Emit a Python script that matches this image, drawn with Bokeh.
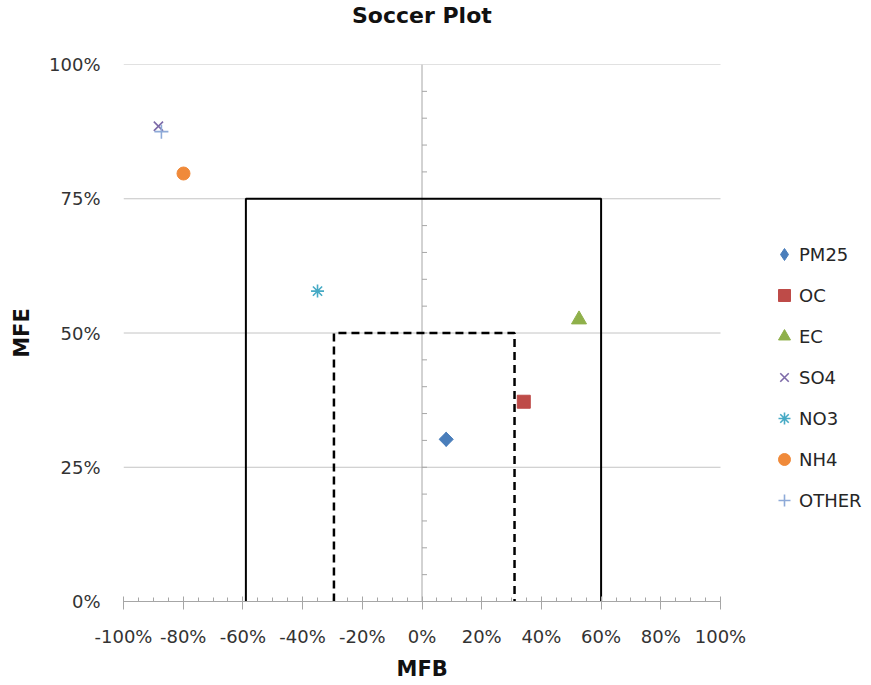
from bokeh.plotting import figure
from bokeh.models import Legend, LegendItem, PrintfTickFormatter, FixedTicker, Range1d, Title
from bokeh.embed import file_html
from bokeh.resources import INLINE

# ---- data ----
species = ["PM25", "OC", "EC", "SO4", "NO3", "NH4", "OTHER"]
mfb = [8.1, 34.1, 52.6, -88.3, -35.0, -79.9, -87.3]
mfe = [30.2, 37.2, 52.5, 88.5, 57.8, 79.7, 87.5]

# goal (solid) and criteria (dashed) boxes
goal_x = [-59, -59, 60, 60]
goal_y = [0, 75, 75, 0]
crit_x = [-29.5, -29.5, 31, 31]
crit_y = [0, 50, 50, 0]

x_ticks = [-100, -80, -60, -40, -20, 0, 20, 40, 60, 80, 100]
x_minor = [v for v in range(-100, 101, 5) if v not in x_ticks]
y_ticks = [0, 25, 50, 75, 100]
center_minor = list(range(5, 100, 5))

markers = ["diamond", "square", "triangle", "x", "asterisk", "circle", "cross"]
sizes = [14, 13, 15, 13, 13, 13, 14]
colors = ["#4a7ebb", "#be4b48", "#8fb04a", "#7d6aa8", "#46aac5", "#f08a3a", "#8eaad8"]

FONT = "DejaVu Sans"

# layout: plot area from x=123 (-100%) to x=720 (100%); frame extends to the
# right edge so the legend can sit beside the axes
W, H = 871, 685
LEFT, AX_RIGHT = 123, 720
x_lo, x_hi = x_ticks[0], x_ticks[-1]
x_end = x_lo + (x_hi - x_lo) * (W - LEFT) / (AX_RIGHT - LEFT)
x_center_px = (LEFT + AX_RIGHT) / 2 - LEFT

p = figure(width=W, height=H, output_backend="svg", toolbar_location=None,
           x_range=Range1d(x_lo, x_end), y_range=Range1d(y_ticks[0], y_ticks[-1]),
           min_border_left=LEFT, min_border_right=0, min_border_top=64,
           min_border_bottom=84, title=None)
p.outline_line_color = None
p.background_fill_color = "white"

# titles (spacer nearest the plot, then the main title)
p.add_layout(Title(text=" ", text_font_size="22px", standoff=8), "above")
title_w = 140
p.add_layout(Title(text="Soccer Plot", align="left", offset=x_center_px - title_w / 2,
                   vertical_align="top", standoff=0, text_font=FONT,
                   text_font_size="22px", text_font_style="bold",
                   text_color="#111111"), "above")

# grid (drawn only across the axis span)
p.xgrid.visible = False
p.ygrid.visible = False
gy = y_ticks[1:]
p.segment(x0=[x_lo] * len(gy), y0=gy, x1=[x_hi] * len(gy), y1=gy,
          line_color="#c4c4c4", line_width=1)

# x axis
xa = p.xaxis[0]
xa.bounds = (x_lo, x_hi)
xa.ticker = FixedTicker(ticks=x_ticks, minor_ticks=x_minor)
xa.formatter = PrintfTickFormatter(format="%d%%")
xa.axis_line_color = "#a6a6a6"
xa.major_tick_line_color = "#a6a6a6"
xa.minor_tick_line_color = "#a6a6a6"
xa.major_tick_in = 5
xa.major_tick_out = 8
xa.minor_tick_in = 4
xa.minor_tick_out = 0
xa.major_label_text_font = FONT
xa.major_label_text_font_size = "18px"
xa.major_label_text_color = "#333333"
xa.major_label_standoff = 16

label_w = 51
p.add_layout(Title(text="MFB", align="left", offset=x_center_px - label_w / 2,
                   vertical_align="bottom", standoff=10, text_font=FONT,
                   text_font_size="21px", text_font_style="bold",
                   text_color="#111111"), "below")

# y axis
ya = p.yaxis[0]
ya.ticker = FixedTicker(ticks=y_ticks)
ya.formatter = PrintfTickFormatter(format="%d%%")
ya.axis_line_color = None
ya.major_tick_line_color = None
ya.minor_tick_line_color = None
ya.major_tick_out = 0
ya.major_tick_in = 0
ya.major_label_standoff = 23
ya.major_label_text_font = FONT
ya.major_label_text_font_size = "18px"
ya.major_label_text_color = "#333333"
ya.axis_label = "MFE"
ya.axis_label_text_font = FONT
ya.axis_label_text_font_size = "21px"
ya.axis_label_text_font_style = "bold"
ya.axis_label_text_color = "#111111"
ya.axis_label_standoff = 12

# central vertical axis at MFB = 0 with minor ticks
p.segment(x0=[0], y0=[y_ticks[0]], x1=[0], y1=[y_ticks[-1]], line_color="#a6a6a6", line_width=1)
p.ray(x=[0] * len(center_minor), y=center_minor, length=5, length_units="screen",
      angle=0, line_color="#a6a6a6", line_width=1)

# boxes
p.line(goal_x, goal_y, line_color="black", line_width=2)
p.line(crit_x, crit_y, line_color="black", line_width=2.5, line_dash="8 5")

# points
items = []
for i, name in enumerate(species):
    kw = dict(marker=markers[i], size=sizes[i])
    if markers[i] in ("x", "asterisk", "cross"):
        kw.update(line_color=colors[i], line_width=1.6, fill_color=None)
    else:
        kw.update(line_color=colors[i], fill_color=colors[i], line_width=1)
    r = p.scatter(x=[mfb[i]], y=[mfe[i]], **kw)
    if markers[i] == "diamond":
        # widen the diamond to the square-ish shape of the original
        p.scatter(x=[mfb[i]], y=[mfe[i]], marker="square", angle=0.785398, size=10,
                  line_color=colors[i], fill_color=colors[i])
    items.append(LegendItem(label=name, renderers=[r]))

legend = Legend(items=items, location=(646, 86), orientation="vertical")
legend.border_line_color = None
legend.background_fill_alpha = 0
legend.padding = 0
legend.margin = 0
legend.spacing = 11
legend.glyph_width = 30
legend.glyph_height = 30
legend.label_height = 26
legend.label_standoff = 0
legend.label_text_font = FONT
legend.label_text_font_size = "18px"
legend.label_text_color = "#262626"
p.add_layout(legend, "center")

open("out.html", "w").write(file_html(p, INLINE))
